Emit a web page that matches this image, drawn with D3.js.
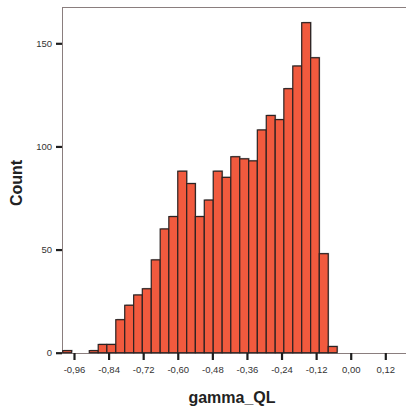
<!DOCTYPE html>
<html>
<head>
<meta charset="utf-8">
<script src="https://cdn.jsdelivr.net/npm/d3@7"></script>
<style>
    body { margin: 0; background: #fff; }
    svg { display: block; font-family: "Liberation Sans", Arial, sans-serif; }
</style>
</head>
<body>
<div class="content"></div>
<script>
// histogram bins of gamma_QL (edges) and counts per bin
var binEdges = [-0.999, -0.968, -0.938, -0.907, -0.876, -0.846, -0.815, -0.784,
    -0.753, -0.723, -0.692, -0.661, -0.631, -0.600, -0.569, -0.539, -0.508,
    -0.477, -0.446, -0.416, -0.385, -0.354, -0.324, -0.293, -0.262, -0.232,
    -0.201, -0.170, -0.139, -0.109, -0.078, -0.047];
var counts = [1, 0, 0, 1, 4, 4, 16, 23, 28, 31, 45, 60, 66, 88, 82, 66, 74,
    88, 85, 95, 94, 93, 108, 115, 113, 128, 139, 160, 143, 48, 3];
var xTicks = [-0.96, -0.84, -0.72, -0.60, -0.48, -0.36, -0.24, -0.12, 0.00, 0.12];
var yTicks = [0, 50, 100, 150];

(function () {
    'use strict';
    var width = 406, height = 412,
        frame = {left: 62, top: 7, right: 412, bottom: 353},
        options = {
            fill: "#f15a3e",
            stroke: "#2a2222",
            frameColor: "#8a7e7e",
            tickColor: "#1e1e1e",
            labelColor: "#333"
        },
        svg, x, y, fmt, bins, xAxis, yAxis;

    fmt = d3.formatLocale({decimal: ",", thousands: ".", grouping: [3], currency: ["", ""], minus: "-"}).format(".2f");

    x = d3.scaleLinear().domain([-0.96, 0.12]).range([74, 385.3]);
    y = d3.scaleLinear().domain([0, 150]).range([352.7, 43.3]);

    bins = counts.map(function (c, i) {
        return {x0: binEdges[i], x1: binEdges[i + 1], n: c};
    });

    svg = d3.select(".content").append("svg")
        .attr("width", width)
        .attr("height", height);

    // frame
    svg.append("rect")
        .attr("x", frame.left + 0.5)
        .attr("y", frame.top + 0.5)
        .attr("width", frame.right - frame.left)
        .attr("height", frame.bottom - frame.top)
        .attr("fill", "none")
        .attr("stroke", options.frameColor)
        .attr("stroke-width", 1);

    // bars (light shadow behind, then the bar)
    var bars = svg.append("g").selectAll("g.bar")
        .data(bins.filter(function (d) { return d.n > 0; }))
        .enter().append("g")
        .attr("class", "bar");

    bars.append("rect")
        .attr("x", function (d) { return x(d.x0) + 1; })
        .attr("y", function (d) { return y(d.n) - 1; })
        .attr("width", function (d) { return x(d.x1) - x(d.x0); })
        .attr("height", function (d) { return y(0) - y(d.n); })
        .attr("fill", "#c8c8c8");

    bars.append("rect")
        .attr("x", function (d) { return x(d.x0); })
        .attr("y", function (d) { return y(d.n); })
        .attr("width", function (d) { return x(d.x1) - x(d.x0); })
        .attr("height", function (d) { return y(0) - y(d.n); })
        .attr("fill", options.fill)
        .attr("stroke", options.stroke)
        .attr("stroke-width", 1.2);

    // axes
    xAxis = svg.append("g")
        .attr("transform", "translate(0," + frame.bottom + ")")
        .call(d3.axisBottom(x).tickValues(xTicks).tickFormat(fmt).tickSize(7).tickPadding(6));
    yAxis = svg.append("g")
        .attr("transform", "translate(" + frame.left + ",0)")
        .call(d3.axisLeft(y).tickValues(yTicks).tickSize(6).tickPadding(4));

    [xAxis, yAxis].forEach(function (ax) {
        ax.select(".domain").remove();
        ax.selectAll(".tick line")
            .attr("stroke", options.tickColor)
            .attr("stroke-width", 2.2);
        ax.selectAll(".tick text")
            .attr("fill", options.labelColor)
            .style("font-size", "9.5px")
            .style("font-family", "'Liberation Sans', Arial, sans-serif");
    });

    // axis titles
    svg.append("text")
        .text("gamma_QL")
        .attr("x", 232)
        .attr("y", 403)
        .attr("text-anchor", "middle")
        .attr("font-size", "16px")
        .attr("font-weight", "bold")
        .attr("fill", "#222");

    svg.append("text")
        .text("Count")
        .attr("transform", "translate(22,183) rotate(-90)")
        .attr("text-anchor", "middle")
        .attr("font-size", "16px")
        .attr("font-weight", "bold")
        .attr("fill", "#222");
}());
</script>
</body>
</html>
